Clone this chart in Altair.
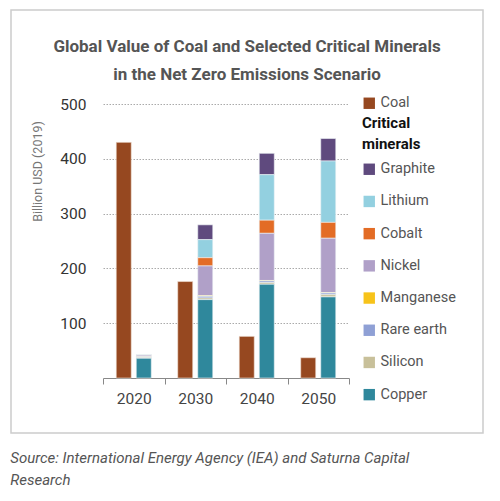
import altair as alt
import pandas as pd

FONT = "Roboto, Liberation Sans, sans-serif"

years = ["2020", "2030", "2040", "2050"]
coal = [430, 176, 76, 37]

# mineral series, listed top of stack first (legend order)
minerals = ["Graphite", "Lithium", "Cobalt", "Nickel", "Manganese", "Rare earth", "Silicon", "Copper"]
mineral_colors = ["#5f4a7e", "#93d0e0", "#e36c25", "#b0a0c8", "#f7c31a", "#8fa0d5", "#c8c09a", "#2f889c"]
coal_color = "#964820"

graphite = [0.2, 27, 39, 41]
lithium = [0.3, 33, 83, 112]
cobalt = [0.5, 15, 24, 29]
nickel = [2.5, 54, 86, 99]
manganese = [0.5, 1.5, 1, 1]
rare_earth = [1, 3, 3, 3]
silicon = [1.5, 3, 3, 4]
copper = [36, 143, 171, 148]

mineral_values = [graphite, lithium, cobalt, nickel, manganese, rare_earth, silicon, copper]

coal_df = pd.DataFrame({"year": years, "group": "Coal", "series": "Coal", "value": coal})
rows = []
for i, (name, vals) in enumerate(zip(minerals, mineral_values)):
    for y, v in zip(years, vals):
        rows.append({"year": y, "group": "Minerals", "series": name, "value": v,
                     "rank": len(minerals) - 1 - i})
min_df = pd.DataFrame(rows)

x_enc = alt.X(
    "year:N",
    title=None,
    scale=alt.Scale(domain=years, paddingInner=0, paddingOuter=0),
    axis=alt.Axis(
        labelAngle=0, labelFontSize=15.5, labelColor="#444", labelFont=FONT,
        domainColor="#888", tickColor="#888", tickSize=6, tickBand="extent",
        labelPadding=7, grid=False,
    ),
)
xoff_enc = alt.XOffset(
    "group:N",
    scale=alt.Scale(domain=["Coal", "Minerals"], paddingInner=0.25, paddingOuter=0.66),
)
y_enc = alt.Y(
    "value:Q",
    stack="zero",
    scale=alt.Scale(domain=[0, 500], nice=False),
    axis=alt.Axis(
        values=[100, 200, 300, 400, 500], title="Billion USD (2019)",
        titleFont=FONT, titleFontSize=12.5, titleFontWeight="normal", titleColor="#777",
        titleX=-66, titleY=67, titleBaseline="middle", titleAlign="center",
        labelFont=FONT, labelFontSize=15.5, labelColor="#333", labelPadding=17,
        ticks=False, domain=False, grid=True, gridColor="#aaa", gridDash=[1.5, 1.5],
        gridWidth=1,
    ),
)

coal_layer = alt.Chart(coal_df).mark_bar(stroke="#f4e6dc", strokeWidth=0.6).encode(
    x=x_enc,
    xOffset=xoff_enc,
    y=y_enc,
    color=alt.Color(
        "series:N",
        scale=alt.Scale(domain=["Coal"], range=[coal_color]),
        legend=alt.Legend(title=None, orient="none", legendX=259, legendY=-8),
    ),
)

mineral_layer = alt.Chart(min_df).mark_bar(stroke="#eef3f5", strokeWidth=0.6).encode(
    x=x_enc,
    xOffset=xoff_enc,
    y=y_enc,
    color=alt.Color(
        "series:N",
        scale=alt.Scale(domain=minerals, range=mineral_colors),
        legend=alt.Legend(title=["Critical", "minerals"], orient="none",
                          legendX=259, legendY=12),
    ),
    order=alt.Order("rank:Q"),
)

# light frame around the figure
frame = alt.Chart(alt.Data(values=[{"f": 1}])).mark_rect(
    fill="transparent", stroke="#cccccc", strokeWidth=1.5
).encode(
    x=alt.value(-92), x2=alt.value(380), y=alt.value(-94), y2=alt.value(329)
)

inner = alt.layer(frame, coal_layer, mineral_layer).resolve_scale(
    color="independent"
).properties(
    width=246,
    height=274,
    title=alt.TitleParams(
        text=["Global Value of Coal and Selected Critical Minerals",
              "in the Net Zero Emissions Scenario"],
        font=FONT, fontSize=17, fontWeight="bold", color="#555",
        anchor="middle", frame="bounds", lineHeight=28, offset=-75,
    ),
)

chart = alt.vconcat(inner).properties(
    title=alt.TitleParams(
        text=["Source: International Energy Agency (IEA) and Saturna Capital",
              "Research"],
        orient="bottom", anchor="start", font=FONT, fontSize=15,
        fontStyle="italic", fontWeight="normal", color="#555",
        lineHeight=22, offset=17,
    ),
    padding={"left": 10, "top": 9, "right": 5, "bottom": 5},
).configure_view(strokeWidth=0).configure_legend(
    labelFont=FONT, labelFontSize=14.5, labelColor="#555",
    titleFont=FONT, titleFontSize=15, titleColor="#111", titleFontWeight="bold",
    titleLineHeight=21, titlePadding=10, symbolType="square", symbolSize=130,
    symbolStrokeWidth=0, rowPadding=17.2, padding=0, labelOffset=4,
)

chart.save("out.html", embed_options={"renderer": "svg", "actions": False})
